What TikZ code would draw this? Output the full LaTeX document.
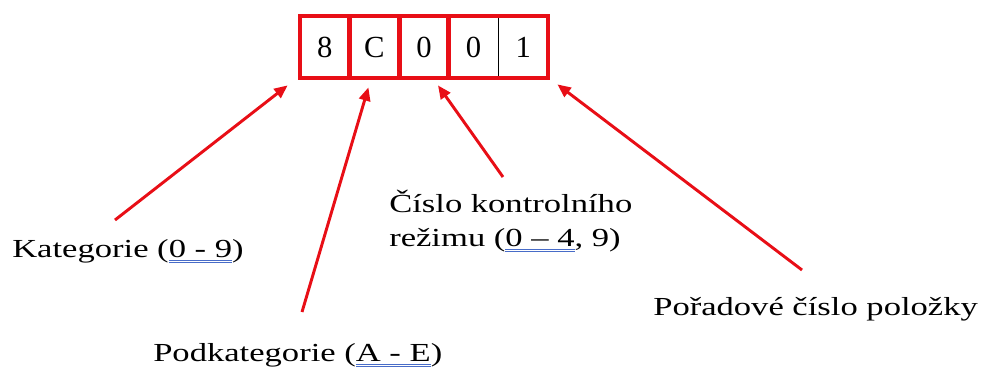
\documentclass[tikz,border=0pt]{standalone}
\usepackage{fontspec}
\setmainfont[FakeStretch=1.33]{Liberation Serif}
\newfontfamily\cellfont{Liberation Serif}
\usepackage{xcolor}
\usepackage{tikz}
\usetikzlibrary{arrows.meta,positioning,fit}

\definecolor{codered}{RGB}{232,14,22}
\definecolor{spellblue}{RGB}{72,108,200}
\newsavebox{\gramulbox}
\newcommand{\gramul}[1]{\sbox{\gramulbox}{#1}%
  \rlap{\textcolor{spellblue}{\rule[-2.6pt]{\wd\gramulbox}{0.6pt}}}%
  \rlap{\textcolor{spellblue}{\rule[-4.4pt]{\wd\gramulbox}{0.6pt}}}%
  \usebox{\gramulbox}}

\begin{document}
\begin{tikzpicture}[x=0.75pt, y=-0.75pt,
    cell/.style={draw, line width=0.5pt, minimum width=37.2pt,
                 minimum height=46.5pt, inner sep=0pt, outer sep=0pt,
                 font=\cellfont\fontsize{23}{23}\selectfont},
    redbox/.style={draw=codered, line width=3.6pt, inner sep=0pt},
    lbl/.style={inner sep=0pt, anchor=base west, align=left,
                font=\fontsize{19.5}{25.5}\selectfont},
    arr/.style={codered, line width=2.2pt,
                -{Triangle[length=10pt, width=8.5pt]}},
  ]
    \useasboundingbox (0,0) rectangle (987,368);

    \node[cell] (c1) at (324.8,47) {8};
    \node[cell, right=0pt of c1] (c2) {C};
    \node[cell, right=0pt of c2] (c3) {0};
    \node[cell, right=0pt of c3] (c4) {0};
    \node[cell, right=0pt of c4] (c5) {1};

    \node[redbox, fit=(c1)] (r1) {};
    \node[redbox, fit=(c2)] (r2) {};
    \node[redbox, fit=(c3)] (r3) {};
    \node[redbox, fit=(c4)(c5)] (r4) {};

    \node[lbl] (kat)    at (12,257)  {Kategorie (\gramul{0 - 9})};
    \node[lbl] (podkat) at (153,361) {Podkategorie (\gramul{A - E})};
    \node[lbl] (cislo)  at (389,246) {Číslo kontrolního\\režimu (\gramul{0 – 4}, 9)};
    \node[lbl] (porad)  at (653,315) {Pořadové číslo položky};

    \coordinate (t1) at (115,220);
    \coordinate (t2) at (302,312);
    \coordinate (t3) at (503,177);
    \coordinate (t4) at (802,270);

    \draw[arr] (t1) -- ([shift={(-10,5)}]r1.south west);
    \draw[arr] (t2) -- ([shift={(-6,7)}]r2.south);
    \draw[arr] (t3) -- ([shift={(14,5)}]r3.south);
    \draw[arr] (t4) -- ([shift={(7,4)}]r4.south east);
  \end{tikzpicture}
\end{document}
